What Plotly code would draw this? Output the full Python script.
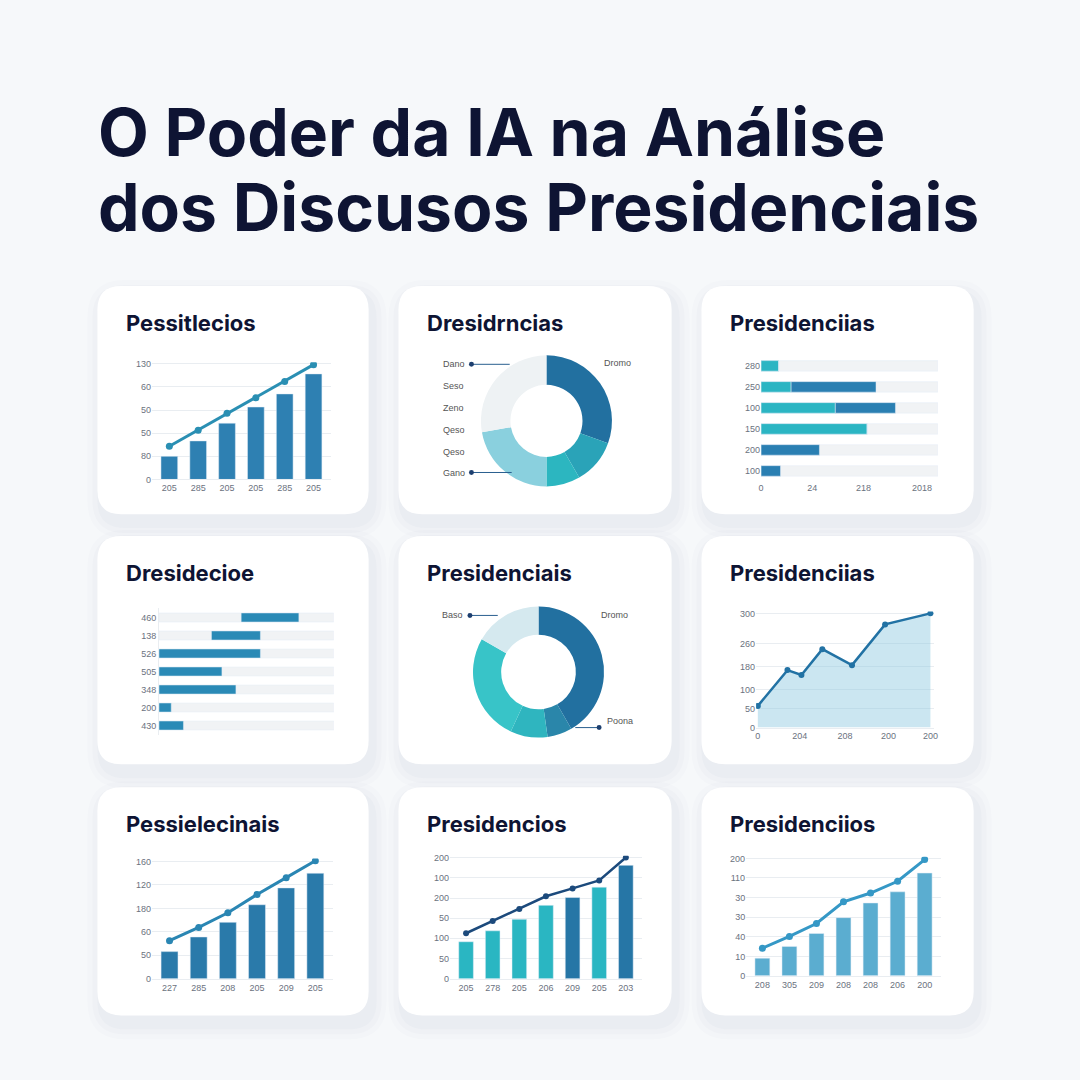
import plotly.graph_objects as go

W = H = 1080
BG = "#f6f8fa"
NAVY = "#0e1433"
TICK = "#6b7280"
GRID = "#e9edf1"

title_lines = ["O Poder da IA na Análise", "dos Discusos Presidenciais"]
card_titles = ["Pessitlecios", "Dresidrncias", "Presidenciias",
               "Dresidecioe", "Presidenciais", "Presidenciias",
               "Pessielecinais", "Presidencios", "Presidenciios"]

# Panel 1: bar + line
p1_x = ["205", "285", "205", "205", "285", "205"]
p1_bars = [30, 50, 73, 94, 111, 137]
p1_line = [43, 64, 86, 106, 127, 149]
p1_yt = ["0", "80", "50", "50", "60", "130"]

# Panel 2: donut
p2_vals = [110, 40, 30, 80, 100]
p2_cols = ["#2270a0", "#2aa3b8", "#2cb6c0", "#8ad0de", "#eef2f4"]
p2_left = ["Dano", "Seso", "Zeno", "Qeso", "Qeso", "Gano"]
p2_right = "Dromo"

# Panel 3: horizontal bars (stacked)
p3_rows = ["280", "250", "100", "150", "200", "100"]
p3_teal = [10, 17, 42, 60, 0, 0]
p3_blue = [0, 48, 34, 0, 33, 11]
p3_xt = ["0", "24", "218", "2018"]

# Panel 4: floating horizontal bars
p4_rows = ["460", "138", "526", "505", "348", "200", "430"]
p4_base = [47, 30, 0, 0, 0, 0, 0]
p4_len = [33, 28, 58, 36, 44, 7, 14]

# Panel 5: donut
p5_vals = [150, 22, 33, 95, 60]
p5_cols = ["#2270a0", "#2a86aa", "#2fb5bf", "#38c4c8", "#d5e9ef"]

# Panel 6: area line
p6_x = [0, 17, 25, 37, 54, 73, 99]
p6_y = [57, 151, 138, 206, 164, 271, 300]
p6_yt = ["0", "50", "100", "180", "260", "300"]
p6_xt = ["0", "204", "208", "200", "200"]

# Panel 7
p7_x = ["227", "285", "208", "205", "209", "205"]
p7_bars = [37, 57, 77, 101, 124, 144]
p7_line = [52, 70, 90, 115, 138, 161]
p7_yt = ["0", "50", "60", "180", "120", "160"]

# Panel 8
p8_x = ["205", "278", "205", "206", "209", "205", "203"]
p8_bars = [61, 79, 98, 121, 134, 151, 187]
p8_line = [75, 95, 115, 136, 149, 162, 200]
p8_cols = ["#2ab6c2", "#2ab6c2", "#2ab6c2", "#2ab6c2", "#2676a6", "#2ab6c2", "#2676a6"]
p8_yt = ["0", "50", "100", "50", "200", "100", "200"]

# Panel 9
p9_x = ["208", "305", "209", "208", "208", "206", "200"]
p9_bars = [30, 50, 72, 99, 124, 143, 175]
p9_line = [47, 67, 89, 126, 141, 161, 198]
p9_yt = ["0", "10", "40", "30", "30", "110", "200"]

fig = go.Figure()
shapes, annos = [], []

def px(x): return x / W
def py(y): return 1 - y / H

def rrect(x0, y0, x1, y1, r, fill):
    X0, X1 = px(x0), px(x1)
    Y0, Y1 = py(y1), py(y0)
    rx, ry = r / W, r / H
    path = (f"M {X0+rx},{Y0} L {X1-rx},{Y0} Q {X1},{Y0} {X1},{Y0+ry} "
            f"L {X1},{Y1-ry} Q {X1},{Y1} {X1-rx},{Y1} L {X0+rx},{Y1} "
            f"Q {X0},{Y1} {X0},{Y1-ry} L {X0},{Y0+ry} Q {X0},{Y0} {X0+rx},{Y0} Z")
    shapes.append(dict(type="path", path=path, xref="paper", yref="paper",
                       fillcolor=fill, line=dict(width=0), layer="below"))

cards_x = [(95, 368), (398, 673), (703, 977)]
cards_y = [(285, 515), (537, 767), (790, 1020)]
k = 0
for cy in cards_y:
    for cx in cards_x:
        for i, a in enumerate([0.035, 0.03, 0.025]):
            g = 4 + i * 5
            rrect(cx[0] - g + 4, cy[0] - g + 8, cx[1] + g + 4, cy[1] + g + 10, 24 + g, f"rgba(120,140,165,{a})")
        rrect(cx[0], cy[0], cx[1], cy[1], 24, "white")
        annos.append(dict(text=card_titles[k], x=px(cx[0] + 27), y=py(cy[0] + 37), xref="paper", yref="paper",
                          xanchor="left", yanchor="middle", showarrow=False,
                          font=dict(family="Inter", size=22, color=NAVY, weight=700)))
        k += 1

for i, t in enumerate(title_lines):
    annos.append(dict(text=t, x=px(94), y=py(130 + i * 76), xref="paper", yref="paper",
                      xanchor="left", yanchor="middle", showarrow=False,
                      font=dict(family="Inter", size=66, color=NAVY, weight=700)))

axcount = [0]
layout_axes = {}
def axes(box, xr, yr, xtv=None, xtt=None, ytv=None, ytt=None, ygrid=True, xshow=True, xline=True, yline=False):
    axcount[0] += 1
    n = axcount[0]
    x0, y0, x1, y1 = box
    xn = "xaxis" if n == 1 else f"xaxis{n}"
    yn = "yaxis" if n == 1 else f"yaxis{n}"
    tf = dict(family="Liberation Sans", size=9, color=TICK)
    layout_axes[xn] = dict(domain=[px(x0), px(x1)], range=xr, anchor=f"y{'' if n==1 else n}",
                           showgrid=False, zeroline=False, tickvals=xtv, ticktext=xtt,
                           showticklabels=xshow, tickfont=tf, ticks="", showline=xline,
                           linecolor=GRID, linewidth=1, fixedrange=True)
    layout_axes[yn] = dict(domain=[py(y1), py(y0)], range=yr, anchor=f"x{'' if n==1 else n}",
                           showgrid=ygrid, gridcolor=GRID, zeroline=False, tickvals=ytv, ticktext=ytt,
                           tickfont=tf, ticks="", showline=yline, linecolor=GRID, fixedrange=True,
                           showticklabels=ytt is not None)
    return ("x" if n == 1 else f"x{n}"), ("y" if n == 1 else f"y{n}")

# Panel 1
xa, ya = axes((150, 362, 330, 480), [-0.6, 5.6], [0, 152], list(range(6)), p1_x,
              [0, 30, 60, 90, 120, 150], p1_yt)
fig.add_bar(x=list(range(6)), y=p1_bars, marker_color="#2e80b2", width=0.58, xaxis=xa, yaxis=ya)
fig.add_scatter(x=list(range(6)), y=p1_line, mode="lines+markers", line=dict(color="#2a8fb3", width=3),
                marker=dict(size=7), xaxis=xa, yaxis=ya)

# Panel 2 donut
fig.add_pie(values=p2_vals, marker=dict(colors=p2_cols), hole=0.55, sort=False, direction="clockwise",
            rotation=0, textinfo="none", domain=dict(x=[px(481), px(613)], y=[py(487), py(355)]))
for i, t in enumerate(p2_left):
    yy = 364 + i * 22
    annos.append(dict(text=t, x=px(441), y=py(yy), xref="paper", yref="paper", xanchor="left",
                      showarrow=False, font=dict(family="Liberation Sans", size=9, color="#555")))
for yy, xe in [(364, 510), (473, 512)]:
    shapes.append(dict(type="line", x0=px(472), x1=px(xe), y0=py(yy), y1=py(yy), xref="paper", yref="paper",
                       line=dict(color="#2a5f8f", width=1)))
    shapes.append(dict(type="circle", x0=px(469), x1=px(474), y0=py(yy - 2.5), y1=py(yy + 2.5),
                       xref="paper", yref="paper", fillcolor="#1d3f6f", line=dict(width=0)))
annos.append(dict(text=p2_right, x=px(603), y=py(363), xref="paper", yref="paper", xanchor="left",
                  showarrow=False, font=dict(family="Liberation Sans", size=9, color="#555")))

# Panel 3
xa, ya = axes((763, 355, 941, 482), [0, 100], [5.5, -0.5], [0, 29, 58, 91], p3_xt,
              list(range(6)), p3_rows, ygrid=False, xline=False)
fig.add_bar(y=list(range(6)), x=[100] * 6, orientation="h", marker_color="#f1f3f5", width=0.5, xaxis=xa, yaxis=ya)
fig.add_bar(y=list(range(6)), x=p3_teal, orientation="h", marker_color="#2bb5c3", width=0.5, xaxis=xa, yaxis=ya)
fig.add_bar(y=list(range(6)), x=p3_blue, base=p3_teal, orientation="h", marker_color="#2a7fb2", width=0.5,
            xaxis=xa, yaxis=ya)

# Panel 4
xa, ya = axes((157, 610, 333, 737), [0, 100], [6.5, -0.5], None, None,
              list(range(7)), p4_rows, ygrid=False, xshow=False, xline=False, yline=True)
fig.add_bar(y=list(range(7)), x=[100] * 7, orientation="h", marker_color="#f1f3f5", width=0.5, xaxis=xa, yaxis=ya)
fig.add_bar(y=list(range(7)), x=p4_len, base=p4_base, orientation="h", width=0.5, xaxis=xa, yaxis=ya,
            marker=dict(color="#2a8ab6"))

# Panel 5 donut
fig.add_pie(values=p5_vals, marker=dict(colors=p5_cols), hole=0.57, sort=False, direction="clockwise",
            rotation=0, textinfo="none", domain=dict(x=[px(473), px(605)], y=[py(740), py(608)]))
for t, xx, yy in [("Baso", 440, 617), ("Dromo", 600, 617), ("Poona", 606, 730)]:
    annos.append(dict(text=t, x=px(xx), y=py(yy), xref="paper", yref="paper", xanchor="left",
                      showarrow=False, font=dict(family="Liberation Sans", size=9, color="#555")))
for x0, x1, yy, dx in [(470, 498, 617, 470), (576, 600, 730, 600)]:
    shapes.append(dict(type="line", x0=px(x0), x1=px(x1), y0=py(yy), y1=py(yy), xref="paper", yref="paper",
                       line=dict(color="#2a5f8f", width=1)))
    shapes.append(dict(type="circle", x0=px(dx - 2.5), x1=px(dx + 2.5), y0=py(yy - 2.5), y1=py(yy + 2.5),
                       xref="paper", yref="paper", fillcolor="#1d3f6f", line=dict(width=0)))

# Panel 6
xa, ya = axes((758, 613, 937, 730), [-1, 101], [0, 305], [0, 24, 50, 75, 99], p6_xt,
              [0, 50, 100, 160, 220, 300], p6_yt)
fig.add_scatter(x=p6_x, y=p6_y, mode="lines+markers", fill="tozeroy", fillcolor="rgba(140,200,225,0.45)",
                line=dict(color="#2272a4", width=2.5), marker=dict(size=6), xaxis=xa, yaxis=ya)

# Panel 7
xa, ya = axes((150, 862, 332, 983), [-0.6, 5.6], [0, 164], list(range(6)), p7_x,
              [0, 32, 64, 96, 128, 160], p7_yt)
fig.add_bar(x=list(range(6)), y=p7_bars, marker_color="#2a7aaa", width=0.58, xaxis=xa, yaxis=ya)
fig.add_scatter(x=list(range(6)), y=p7_line, mode="lines+markers", line=dict(color="#2a86b3", width=3),
                marker=dict(size=7), xaxis=xa, yaxis=ya)

# Panel 8
xa, ya = axes((450, 859, 643, 983), [-0.6, 6.6], [0, 203], list(range(7)), p8_x,
              [0, 33, 67, 100, 133, 167, 200], p8_yt)
fig.add_bar(x=list(range(7)), y=p8_bars, marker_color=p8_cols, width=0.55, xaxis=xa, yaxis=ya)
fig.add_scatter(x=list(range(7)), y=p8_line, mode="lines+markers", line=dict(color="#1c4a7c", width=2.5),
                marker=dict(size=6), xaxis=xa, yaxis=ya)

# Panel 9
xa, ya = axes((748, 860, 944, 980), [-0.6, 6.6], [0, 203], list(range(7)), p9_x,
              [0, 33, 67, 100, 133, 167, 200], p9_yt)
fig.add_bar(x=list(range(7)), y=p9_bars, marker_color="#5badd0", width=0.55, xaxis=xa, yaxis=ya)
fig.add_scatter(x=list(range(7)), y=p9_line, mode="lines+markers", line=dict(color="#3598c6", width=3),
                marker=dict(size=7), xaxis=xa, yaxis=ya)

fig.update_layout(width=W, height=H, margin=dict(l=0, r=0, t=0, b=0), paper_bgcolor=BG,
                  plot_bgcolor="rgba(0,0,0,0)", showlegend=False, barmode="overlay",
                  shapes=shapes, annotations=annos, **layout_axes)
fig.write_html("out.html", config={"displayModeBar": False})

with open("out.html", encoding="utf-8") as f:
    html = f.read()
html = html.replace("<body>", '<body style="margin:0;padding:0;overflow:hidden">', 1)
with open("out.html", "w", encoding="utf-8") as f:
    f.write(html)
